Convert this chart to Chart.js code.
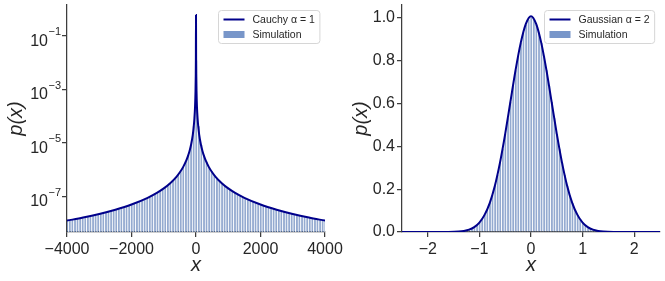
<!DOCTYPE html>
<html>
<head>
<meta charset="utf-8">
<script src="https://cdn.jsdelivr.net/npm/chart.js@4.4.1/dist/chart.umd.min.js"></script>
<style>
    body { margin: 0; background: #fff; }
    #wrap { position: relative; width: 665px; height: 281px; }
    .panel { position: absolute; top: 0; }
    #left { left: 0; }
    #right { left: 345px; }
</style>
</head>
<body>
<div id="wrap">
    <div class="panel" id="left"><canvas id="cauchyChart" width="345" height="281"></canvas></div>
    <div class="panel" id="right"><canvas id="gaussChart" width="320" height="281"></canvas></div>
</div>
<script>
// ---- Left panel: Cauchy (alpha = 1), log y ----
const cauchyCurveX = [-4000, -3500, -3000, -2500, -2000, -1500, -1200, -1000, -800, -600, -500, -400, -300, -250, -200, -150, -100, -75, -50, -30, -15, -8, -4, 0,
    4, 8, 15, 30, 50, 75, 100, 150, 200, 250, 300, 400, 500, 600, 800, 1000, 1200, 1500, 2000, 2500, 3000, 3500, 4000];
const cauchyCurveP = [1.25e-8, 1.63e-8, 2.22e-8, 3.2e-8, 5.0e-8, 8.9e-8, 1.39e-7, 2.0e-7, 3.13e-7, 5.56e-7, 8.0e-7, 1.25e-6, 2.22e-6, 3.2e-6, 5.0e-6, 8.9e-6, 2.0e-5, 3.56e-5, 8.0e-5, 2.22e-4, 8.9e-4, 3.1e-3, 1.2e-2, 0.6,
    1.2e-2, 3.1e-3, 8.9e-4, 2.22e-4, 8.0e-5, 3.56e-5, 2.0e-5, 8.9e-6, 5.0e-6, 3.2e-6, 2.22e-6, 1.25e-6, 8.0e-7, 5.56e-7, 3.13e-7, 2.0e-7, 1.39e-7, 8.9e-8, 5.0e-8, 3.2e-8, 2.22e-8, 1.63e-8, 1.25e-8];

const cauchyBinCenters = [
    -4000, -3920, -3840, -3760, -3680, -3600, -3520, -3440, -3360, -3280,
    -3200, -3120, -3040, -2960, -2880, -2800, -2720, -2640, -2560, -2480,
    -2400, -2320, -2240, -2160, -2080, -2000, -1920, -1840, -1760, -1680,
    -1600, -1520, -1440, -1360, -1280, -1200, -1120, -1040, -960, -880,
    -800, -720, -640, -560, -480, -400, -320, -240, -160, -80,
    0,
    80, 160, 240, 320, 400, 480, 560, 640, 720, 800,
    880, 960, 1040, 1120, 1200, 1280, 1360, 1440, 1520, 1600,
    1680, 1760, 1840, 1920, 2000, 2080, 2160, 2240, 2320, 2400,
    2480, 2560, 2640, 2720, 2800, 2880, 2960, 3040, 3120, 3200,
    3280, 3360, 3440, 3520, 3600, 3680, 3760, 3840, 3920, 4000
];
const cauchySimP = [
    1.25e-8, 1.30e-8, 1.36e-8, 1.41e-8, 1.48e-8, 1.54e-8, 1.61e-8, 1.69e-8, 1.77e-8, 1.86e-8,
    1.95e-8, 2.05e-8, 2.16e-8, 2.28e-8, 2.41e-8, 2.55e-8, 2.70e-8, 2.87e-8, 3.05e-8, 3.25e-8,
    3.47e-8, 3.72e-8, 3.99e-8, 4.29e-8, 4.62e-8, 5.00e-8, 5.43e-8, 5.91e-8, 6.46e-8, 7.09e-8,
    7.82e-8, 8.66e-8, 9.65e-8, 1.08e-7, 1.22e-7, 1.39e-7, 1.60e-7, 1.85e-7, 2.17e-7, 2.59e-7,
    3.13e-7, 3.87e-7, 4.90e-7, 6.41e-7, 8.74e-7, 1.26e-6, 1.98e-6, 3.57e-6, 8.33e-6, 4.17e-5,
    1.24e-2,
    4.17e-5, 8.33e-6, 3.57e-6, 1.98e-6, 1.26e-6, 8.74e-7, 6.41e-7, 4.90e-7, 3.87e-7, 3.13e-7,
    2.59e-7, 2.17e-7, 1.85e-7, 1.60e-7, 1.39e-7, 1.22e-7, 1.08e-7, 9.65e-8, 8.66e-8, 7.82e-8,
    7.09e-8, 6.46e-8, 5.91e-8, 5.43e-8, 5.00e-8, 4.62e-8, 4.29e-8, 3.99e-8, 3.72e-8, 3.47e-8,
    3.25e-8, 3.05e-8, 2.87e-8, 2.70e-8, 2.55e-8, 2.41e-8, 2.28e-8, 2.16e-8, 2.05e-8, 1.95e-8,
    1.86e-8, 1.77e-8, 1.69e-8, 1.61e-8, 1.54e-8, 1.48e-8, 1.41e-8, 1.36e-8, 1.30e-8, 1.25e-8
];
const cauchyXTicks = [-4000, -2000, 0, 2000, 4000];
const cauchyYTicks = [1e-7, 1e-5, 1e-3, 1e-1];

// ---- Right panel: Gaussian (alpha = 2), linear y ----
const gaussCurveX = [-2.5, -2.0, -1.6, -1.4, -1.3, -1.2, -1.1, -1.0, -0.9, -0.8, -0.7, -0.6, -0.5, -0.4, -0.3, -0.2, -0.1, 0,
    0.1, 0.2, 0.3, 0.4, 0.5, 0.6, 0.7, 0.8, 0.9, 1.0, 1.1, 1.2, 1.3, 1.4, 1.6, 2.0, 2.5];
const gaussCurveP = [0, 0, 0.0003, 0.002, 0.005, 0.011, 0.023, 0.044, 0.080, 0.135, 0.216, 0.325, 0.458, 0.607, 0.755, 0.882, 0.972, 1.008,
    0.972, 0.882, 0.755, 0.607, 0.458, 0.325, 0.216, 0.135, 0.080, 0.044, 0.023, 0.011, 0.005, 0.002, 0.0003, 0, 0];

const gaussBinCenters = [
    -1.50, -1.45, -1.40, -1.35, -1.30, -1.25, -1.20, -1.15, -1.10, -1.05,
    -1.00, -0.95, -0.90, -0.85, -0.80, -0.75, -0.70, -0.65, -0.60, -0.55,
    -0.50, -0.45, -0.40, -0.35, -0.30, -0.25, -0.20, -0.15, -0.10, -0.05,
    0,
    0.05, 0.10, 0.15, 0.20, 0.25, 0.30, 0.35, 0.40, 0.45, 0.50,
    0.55, 0.60, 0.65, 0.70, 0.75, 0.80, 0.85, 0.90, 0.95, 1.00,
    1.05, 1.10, 1.15, 1.20, 1.25, 1.30, 1.35, 1.40, 1.45, 1.50
];
const gaussSimP = [
    0.0009, 0.0014, 0.0022, 0.0034, 0.0051, 0.0076, 0.011, 0.016, 0.023, 0.032,
    0.044, 0.060, 0.080, 0.105, 0.135, 0.172, 0.216, 0.267, 0.325, 0.389,
    0.458, 0.531, 0.607, 0.682, 0.755, 0.823, 0.882, 0.932, 0.969, 0.992,
    1.000,
    0.992, 0.969, 0.932, 0.882, 0.823, 0.755, 0.682, 0.607, 0.531, 0.458,
    0.389, 0.325, 0.267, 0.216, 0.172, 0.135, 0.105, 0.080, 0.060, 0.044,
    0.032, 0.023, 0.016, 0.011, 0.0076, 0.0051, 0.0034, 0.0022, 0.0014, 0.0009
];
const gaussXTicks = [-2, -1, 0, 1, 2];
const gaussYTicks = [0, 0.2, 0.4, 0.6, 0.8, 1.0];

// ---- styling ----
const FONT = "'Liberation Sans', Arial, sans-serif";
const TEXT = '#262626';
const SPINE = '#3d3d3d';
const CURVE = '#00008b';
const BAR_FILL = 'rgba(76,114,176,0.6)';
const BAR_EDGE = 'rgba(255,255,255,0.8)';
const LEGEND_PATCH = '#7896c9';

Chart.defaults.font.family = FONT;
Chart.defaults.color = TEXT;

const minus = v => (v < 0 ? '\u2212' + Math.abs(v) : String(v));

// legend in a rounded frame, top-right of the plot area
const boxLegend = {
    id: 'boxLegend',
    afterDraw(chart) {
        const { ctx, chartArea: a } = chart;
        const sets = chart.data.datasets;
        ctx.save();
        ctx.font = '10.5px ' + FONT;
        const tw = Math.max(...sets.map(d => ctx.measureText(d.label).width));
        const w = 5 + 21 + 8 + tw + 5;
        const h = 33;
        const x0 = Math.round(a.right - 6 - w) + 0.5;
        const y0 = Math.round(a.top + 5) + 0.5;
        ctx.beginPath();
        ctx.roundRect(x0, y0, w, h, 3);
        ctx.fillStyle = 'rgba(255,255,255,0.85)';
        ctx.fill();
        ctx.strokeStyle = '#d6d6d6';
        ctx.lineWidth = 1;
        ctx.stroke();
        sets.forEach((d, i) => {
            const cy = y0 + 9 + i * 15;
            if (d.type === 'line') {
                ctx.beginPath();
                ctx.moveTo(x0 + 5, cy);
                ctx.lineTo(x0 + 26, cy);
                ctx.strokeStyle = CURVE;
                ctx.lineWidth = 2;
                ctx.stroke();
            } else {
                ctx.fillStyle = LEGEND_PATCH;
                ctx.fillRect(x0 + 5, cy - 3.5, 21, 7);
            }
            ctx.fillStyle = TEXT;
            ctx.textBaseline = 'middle';
            ctx.textAlign = 'left';
            ctx.fillText(d.label, x0 + 34, cy + 0.5);
        });
        ctx.restore();
    }
};

// 10^-n labels for the log axis
const logTickLabels = {
    id: 'logTickLabels',
    afterDraw(chart) {
        const s = chart.scales.y;
        const ctx = chart.ctx;
        const right = chart.chartArea.left - 6;
        ctx.save();
        ctx.fillStyle = TEXT;
        ctx.textAlign = 'right';
        ctx.textBaseline = 'alphabetic';
        s.ticks.forEach(t => {
            const y = s.getPixelForValue(t.value);
            const exp = '\u2212' + Math.abs(Math.round(Math.log10(t.value)));
            ctx.font = '11px ' + FONT;
            const w = ctx.measureText(exp).width;
            ctx.fillText(exp, right, y - 0.5);
            ctx.font = '16px ' + FONT;
            ctx.fillText('10', right - w - 0.5, y + 9.7);
        });
        ctx.restore();
    }
};

function axisCommon(extra) {
    return Object.assign({
        offset: false,
        grid: { display: true, drawOnChartArea: false, drawTicks: true, tickLength: 5, color: SPINE, lineWidth: 1.25, offset: false },
        border: { display: true, color: SPINE, width: 1.25 }
    }, extra);
}

function xTitle() {
    return { display: true, text: 'x', color: TEXT, font: { size: 20, style: 'italic', family: FONT }, padding: { top: 0, bottom: 4 } };
}
function yTitle() {
    return { display: true, text: 'p(x)', color: TEXT, font: { size: 20, style: 'italic', family: FONT }, padding: { top: 4, bottom: 0 } };
}

// fixed axis sizes, no extra label padding so the plot area matches the figure
function fitX(s) { s.height = 49; s.paddingLeft = 0; s.paddingRight = 0; }
function fitY(width) {
    return s => { s.width = width; s.paddingTop = 0; s.paddingBottom = 0; };
}

function datasets(curveX, curveP, binX, binP, curveLabel) {
    return [
        {
            type: 'line',
            label: curveLabel,
            data: curveX.map((x, i) => ({ x: x, y: curveP[i] })),
            borderColor: CURVE,
            borderWidth: 2,
            pointRadius: 0,
            cubicInterpolationMode: 'monotone',
            fill: false,
            order: 0
        },
        {
            type: 'bar',
            label: 'Simulation',
            data: binX.map((x, i) => ({ x: x, y: binP[i] })),
            backgroundColor: BAR_FILL,
            borderColor: BAR_EDGE,
            borderWidth: { left: 1, right: 0, top: 0, bottom: 0 },
            borderSkipped: false,
            barPercentage: 1,
            categoryPercentage: 1,
            order: 1
        }
    ];
}

new Chart(document.getElementById('cauchyChart').getContext('2d'), {
    type: 'bar',
    data: { datasets: datasets(cauchyCurveX, cauchyCurveP, cauchyBinCenters, cauchySimP, 'Cauchy \u03b1 = 1') },
    options: {
        responsive: false,
        animation: false,
        layout: { padding: { top: 5, right: 20, left: 0, bottom: 0 } },
        plugins: { legend: { display: false }, tooltip: { enabled: false } },
        scales: {
            x: axisCommon({
                type: 'linear', min: -4000, max: 4000,
                afterBuildTicks: s => { s.ticks = cauchyXTicks.map(v => ({ value: v })); },
                afterFit: fitX,
                ticks: { callback: v => minus(v), font: { size: 16 }, color: TEXT, padding: 3, maxRotation: 0, autoSkip: false },
                title: xTitle()
            }),
            y: axisCommon({
                type: 'logarithmic', min: 4.7e-9, max: 1.43,
                afterBuildTicks: s => { s.ticks = cauchyYTicks.map(v => ({ value: v })); },
                afterFit: fitY(67),
                ticks: { callback: () => '', font: { size: 16 }, padding: 3 },
                title: yTitle()
            })
        }
    },
    plugins: [boxLegend, logTickLabels]
});

new Chart(document.getElementById('gaussChart').getContext('2d'), {
    type: 'bar',
    data: { datasets: datasets(gaussCurveX, gaussCurveP, gaussBinCenters, gaussSimP, 'Gaussian \u03b1 = 2') },
    options: {
        responsive: false,
        animation: false,
        layout: { padding: { top: 5, right: 5, left: 0, bottom: 0 } },
        plugins: { legend: { display: false }, tooltip: { enabled: false } },
        scales: {
            x: axisCommon({
                type: 'linear', min: -2.5, max: 2.5,
                afterBuildTicks: s => { s.ticks = gaussXTicks.map(v => ({ value: v })); },
                afterFit: fitX,
                ticks: { callback: v => minus(v), font: { size: 16 }, color: TEXT, padding: 3, maxRotation: 0, autoSkip: false },
                title: xTitle()
            }),
            y: axisCommon({
                type: 'linear', min: 0, max: 1.06,
                afterBuildTicks: s => { s.ticks = gaussYTicks.map(v => ({ value: v })); },
                afterFit: fitY(57),
                ticks: { callback: v => v.toFixed(1), font: { size: 16 }, color: TEXT, padding: 2 },
                title: yTitle()
            })
        }
    },
    plugins: [boxLegend]
});
</script>
</body>
</html>
